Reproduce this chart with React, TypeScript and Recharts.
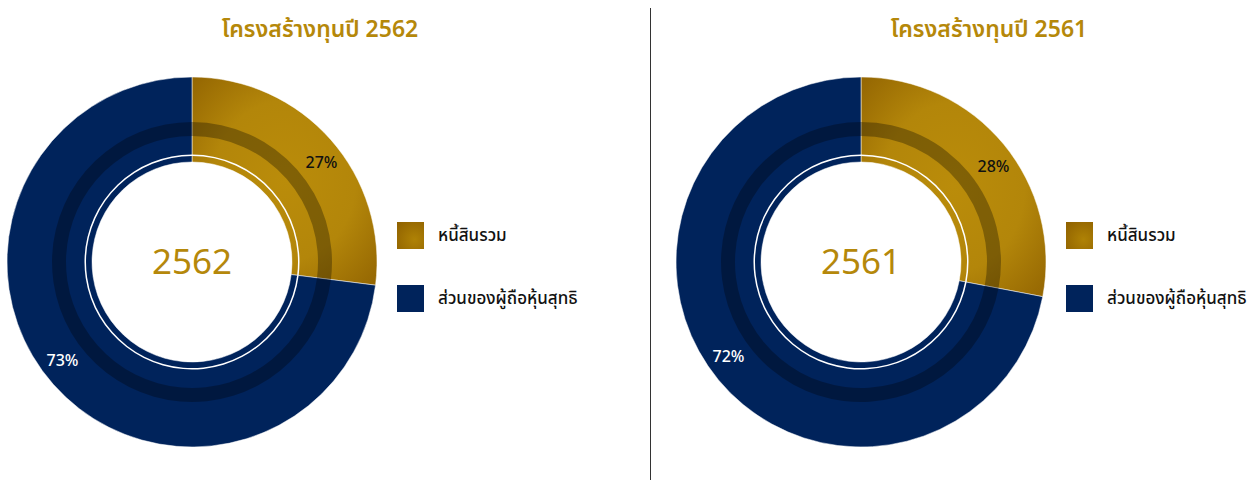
import { PieChart, Pie, Cell } from "recharts";

const years = ["2562", "2561"];
const categories = ["หนี้สินรวม", "ส่วนของผู้ถือหุ้นสุทธิ"];
const values2562 = [27, 73];
const values2561 = [28, 72];
const titlePrefix = "โครงสร้างทุนปี";

const GOLD = "#B5880A";
const NAVY = "#00235B";
const FONT = "'Noto Sans Thai', 'Noto Sans', 'DejaVu Sans', sans-serif";

const W = 1258;
const H = 481;
const CY = 262;
const CX = [192, 861];
const R_OUT = 185;
const R_IN = 100;

const fills = ["url(#goldGrad)", NAVY];
const labelColors = ["#111", "#fff"];

const makeData = (vals: number[]) => categories.map((name, i) => ({ name, value: vals[i] }));
const sets = [makeData(values2562), makeData(values2561)];

// labels sit a little clockwise of the slice middle, like the source
const makeLabel = (k: number) => (props: any) => {
  const { midAngle, index, value } = props;
  const r = 163;
  const rad = (Math.PI / 180) * (midAngle - 4);
  const x = CX[k] + r * Math.cos(rad);
  const y = CY - r * Math.sin(rad);
  return (
    <text key={"l" + index} x={x} y={y} fill={labelColors[index]} textAnchor="middle" dominantBaseline="central"
      style={{ fontFamily: FONT, fontSize: 16, fontWeight: 500 }}>
      {value}%
    </text>
  );
};

export default function App() {
  return (
    <div style={{ position: "relative", width: W, height: H, background: "#fff", fontFamily: FONT }}>
      <style>{"body{margin:0}"}</style>
      <PieChart width={W} height={H} margin={{ top: 0, right: 0, bottom: 0, left: 0 }}
        style={{ position: "absolute", left: 0, top: 0 }}>
        <defs>
          <radialGradient id="goldGrad" cx="50%" cy="50%" r="70%">
            <stop offset="0%" stopColor="#BA8C0A" />
            <stop offset="55%" stopColor="#B3860A" />
            <stop offset="100%" stopColor="#946602" />
          </radialGradient>
        </defs>
        {sets.map((data, k) => (
          <Pie key={"main" + k} data={data} dataKey="value" cx={CX[k]} cy={CY}
            innerRadius={R_IN} outerRadius={R_OUT} startAngle={90} endAngle={-270}
            stroke="#ffffff" strokeOpacity={0.5} strokeWidth={1} labelLine={false}
            label={makeLabel(k)} isAnimationActive={false}>
            {data.map((d, i) => <Cell key={d.name} fill={fills[i]} />)}
          </Pie>
        ))}
        {sets.map((data, k) => (
          <Pie key={"band" + k} data={data} dataKey="value" cx={CX[k]} cy={CY}
            innerRadius={126} outerRadius={140} startAngle={90} endAngle={-270}
            stroke="none" fill="#000" fillOpacity={0.3} isAnimationActive={false} />
        ))}
        {sets.map((data, k) => (
          <Pie key={"ring" + k} data={data} dataKey="value" cx={CX[k]} cy={CY}
            innerRadius={106} outerRadius={107.5} startAngle={90} endAngle={-270}
            stroke="none" fill="#fff" isAnimationActive={false} />
        ))}
      </PieChart>

      {years.map((y, k) => (
        <div key={"t" + y}>
          <div style={{ position: "absolute", left: CX[k] + 128 - 200, top: 13, width: 400, textAlign: "center",
            color: GOLD, fontSize: 23, fontWeight: 600 }}>
            {titlePrefix} {y}
          </div>
          <div style={{ position: "absolute", left: CX[k] - 80, top: CY - 21, width: 160, textAlign: "center",
            color: GOLD, fontSize: 35, lineHeight: "46px" }}>
            {y}
          </div>
          {categories.map((c, i) => (
            <div key={c} style={{ position: "absolute", left: CX[k] + 205, top: 222 + i * 63, height: 27,
              display: "flex", alignItems: "center" }}>
              <div style={{ width: 27, height: 27,
                background: i === 0 ? "radial-gradient(circle at 65% 65%, #AF8205 0%, #8E6000 100%)" : NAVY }} />
              <span style={{ marginLeft: 14, fontSize: 17, fontWeight: 500, color: "#111" }}>{c}</span>
            </div>
          ))}
        </div>
      ))}

      <div style={{ position: "absolute", left: 650, top: 8, width: 1, height: 472, background: "#333" }} />
    </div>
  );
}
